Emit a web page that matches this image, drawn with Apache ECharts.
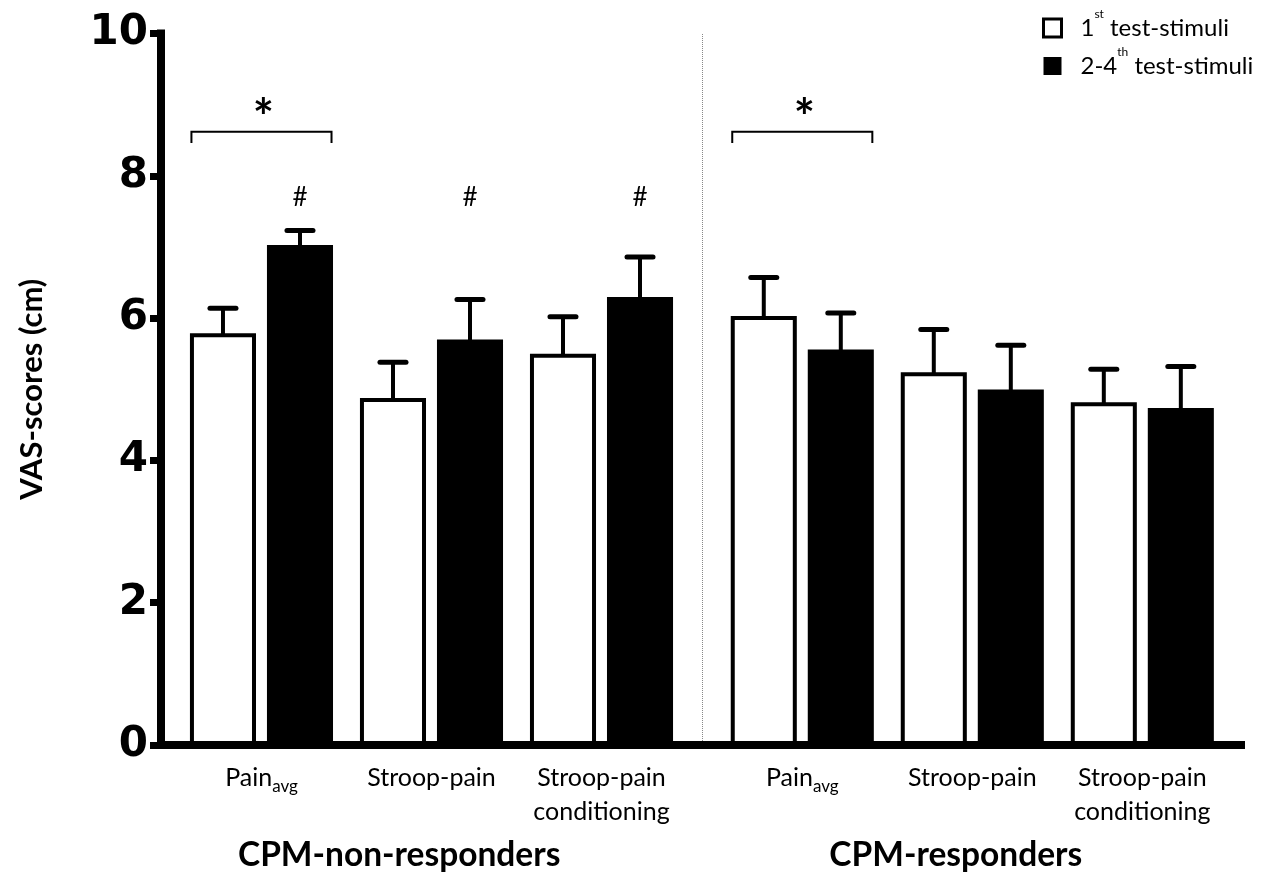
<!DOCTYPE html>
<html>
<head>
<meta charset="utf-8">
<script src="https://cdn.jsdelivr.net/npm/echarts@6/dist/echarts.min.js"></script>
<style>
  html, body { margin: 0; padding: 0; background: #fff; }
  #chart { width: 1284px; height: 876px; }
</style>
</head>
<body>
<div id="chart"></div>
<script>
// ---- data ----
const groups = ['CPM-non-responders', 'CPM-responders'];
const categories = ['Pain{sub|avg}', 'Stroop-pain', 'Stroop-pain\nconditioning',
                    'Pain{sub|avg}', 'Stroop-pain', 'Stroop-pain\nconditioning'];
const seriesNames = ['1st test-stimuli', '2-4th test-stimuli'];
const firstMean = [5.76, 4.85, 5.47, 6.00, 5.21, 4.79];
const firstErr  = [0.38, 0.53, 0.55, 0.57, 0.63, 0.49];
const laterMean = [7.00, 5.67, 6.27, 5.53, 4.97, 4.71];
const laterErr  = [0.23, 0.59, 0.59, 0.54, 0.65, 0.61];
const bracketCats = [0, 3];      // '*' between 1st and 2-4th
const hashCats = [0, 1, 2];      // '#' above 2-4th bars
const yTicks = [0, 2, 4, 6, 8, 10];

// ---- layout constants ----
const GROUP_GAP = 0.181;
const BAR_W = 0.365;
const BAR_OFF = 0.2265;
const BRACKET_HALF = 0.412;
const GROUP_LABEL_SHIFT = [-0.19, -0.097];
const BRACKET_Y = 8.62, BRACKET_DROP = 8.46, STAR_Y = 8.80, HASH_Y = 7.70;
const posOf = i => i + (i >= 3 ? GROUP_GAP : 0);
const DIVIDER_X = (posOf(2) + posOf(3)) / 2;

function barRender(offset, fill) {
  return function (params, api) {
    const x = api.value(0) + offset;
    const top = api.coord([x, api.value(1)]);
    const base = api.coord([x, 0]);
    const eTop = api.coord([x, api.value(1) + api.value(2)]);
    const w = api.size([BAR_W, 0])[0];
    return {
      type: 'group',
      children: [
        { type: 'line', shape: { x1: top[0], y1: top[1], x2: top[0], y2: eTop[1] },
          style: { stroke: '#000', lineWidth: 4 } },
        { type: 'line', shape: { x1: top[0] - 13, y1: eTop[1], x2: top[0] + 13, y2: eTop[1] },
          style: { stroke: '#000', lineWidth: 5, lineCap: 'round' } },
        { type: 'rect', shape: { x: top[0] - w / 2, y: top[1], width: w, height: base[1] - top[1] },
          style: { fill: fill, stroke: '#000', lineWidth: 4 } }
      ]
    };
  };
}

const firstData = firstMean.map((v, i) => [posOf(i), v, firstErr[i]]);
const laterData = laterMean.map((v, i) => [posOf(i), v, laterErr[i]]);
const labelData = categories.map((c, i) => [posOf(i), i]);
const groupData = groups.map((g, gi) => [posOf(gi * 3 + 1) + GROUP_LABEL_SHIFT[gi], gi]);
const bracketData = bracketCats.map(i => [posOf(i), i]);
const hashData = hashCats.map(i => [posOf(i), i]);

const chart = echarts.init(document.getElementById('chart'));
chart.setOption({
  backgroundColor: '#fff',
  animation: false,
  grid: { left: 161, right: 39, top: 33.5, bottom: 131 },
  legend: {
    orient: 'vertical',
    left: 1042, top: 8, padding: 0,
    itemWidth: 18, itemHeight: 18, itemGap: -2,
    data: [
      { name: seriesNames[0], icon: 'rect', itemStyle: { color: '#fff', borderColor: '#000', borderWidth: 3 } },
      { name: seriesNames[1], icon: 'rect', itemStyle: { color: '#000', borderColor: '#000', borderWidth: 0 } }
    ],
    formatter: function (name) {
      return name === seriesNames[0] ? '{gap|}1{sup|st} test-stimuli' : '{gap|}2-4{sup|th} test-stimuli';
    },
    textStyle: {
      fontFamily: 'Lato', fontSize: 24, color: '#000', lineHeight: 40,
      rich: {
        gap: { width: 14 },
        sup: { fontFamily: 'Lato', fontSize: 12, lineHeight: 12, verticalAlign: 'top', color: '#000' }
      }
    }
  },
  xAxis: {
    type: 'value', min: -0.591, max: 5.785, z: 10,
    axisLine: { show: true, onZero: false, lineStyle: { color: '#000', width: 8, cap: 'butt' } },
    axisTick: { show: false }, axisLabel: { show: false }, splitLine: { show: false }
  },
  yAxis: {
    type: 'value', min: 0, max: 10, interval: 2, z: 10,
    name: 'VAS-scores (cm)', nameLocation: 'middle', nameGap: 114,
    nameTextStyle: { fontFamily: 'Lato', fontWeight: 'bold', fontSize: 31, color: '#000' },
    axisLine: { show: true, onZero: false, lineStyle: { color: '#000', width: 8, cap: 'square' } },
    axisTick: { show: true, length: 11, lineStyle: { color: '#000', width: 7 } },
    axisLabel: {
      margin: 13, color: '#000', fontFamily: 'DejaVu Sans', fontWeight: 'bold', fontSize: 42,
      formatter: v => (yTicks.indexOf(v) >= 0 ? String(v) : '')
    },
    splitLine: { show: false }
  },
  series: [
    {
      name: seriesNames[0], type: 'custom', itemStyle: { color: '#fff', borderColor: '#000' },
      renderItem: barRender(-BAR_OFF, '#fff'), data: firstData, z: 2,
      markLine: {
        silent: true, symbol: 'none', label: { show: false },
        lineStyle: { type: 'dotted', color: '#888', width: 1 },
        data: [{ xAxis: DIVIDER_X }]
      }
    },
    {
      name: seriesNames[1], type: 'custom', itemStyle: { color: '#000' },
      renderItem: barRender(BAR_OFF, '#000'), data: laterData, z: 2
    },
    {
      name: 'brackets', type: 'custom', silent: true, data: bracketData, z: 3,
      renderItem: function (params, api) {
        const x = api.value(0);
        const l = api.coord([x - BRACKET_HALF, BRACKET_Y]);
        const r = api.coord([x + BRACKET_HALF, BRACKET_Y]);
        const d = api.coord([x, BRACKET_DROP]);
        const s = api.coord([x, STAR_Y]);
        return {
          type: 'group', children: [
            { type: 'polyline', shape: { points: [[l[0], d[1]], [l[0], l[1]], [r[0], r[1]], [r[0], d[1]]] },
              style: { stroke: '#000', lineWidth: 2, fill: null } },
            { type: 'text', style: { text: '*', x: s[0] + 2, y: s[1], align: 'center', verticalAlign: 'middle',
              fontFamily: 'Lato', fontWeight: 'bold', fontSize: 50, fill: '#000' } }
          ]
        };
      }
    },
    {
      name: 'hashes', type: 'custom', silent: true, data: hashData, z: 3,
      renderItem: function (params, api) {
        const p = api.coord([api.value(0) + BAR_OFF, HASH_Y]);
        return { type: 'text', style: { text: '#', x: p[0], y: p[1], align: 'center', verticalAlign: 'middle',
          fontFamily: 'Lato', fontSize: 26, fill: '#000' } };
      }
    },
    {
      name: 'catLabels', type: 'custom', silent: true, data: labelData, z: 3,
      renderItem: function (params, api) {
        const i = api.value(1);
        const p = api.coord([api.value(0), 0]);
        return { type: 'text', style: { text: categories[i], x: p[0], y: p[1] + 16, align: 'center', verticalAlign: 'top',
          fontFamily: 'Lato', fontSize: 25, lineHeight: 34, fill: '#000',
          rich: { sub: { fontFamily: 'Lato', fontSize: 17, lineHeight: 17, verticalAlign: 'bottom', fill: '#000' } } } };
      }
    },
    {
      name: 'groupLabels', type: 'custom', silent: true, data: groupData, z: 3,
      renderItem: function (params, api) {
        const g = api.value(1);
        const p = api.coord([api.value(0), 0]);
        return { type: 'text', style: { text: groups[g], x: p[0], y: p[1] + 110, align: 'center', verticalAlign: 'middle',
          fontFamily: 'Lato', fontWeight: 'bold', fontSize: 33.5, fill: '#000' } };
      }
    }
  ]
});
</script>
</body>
</html>
